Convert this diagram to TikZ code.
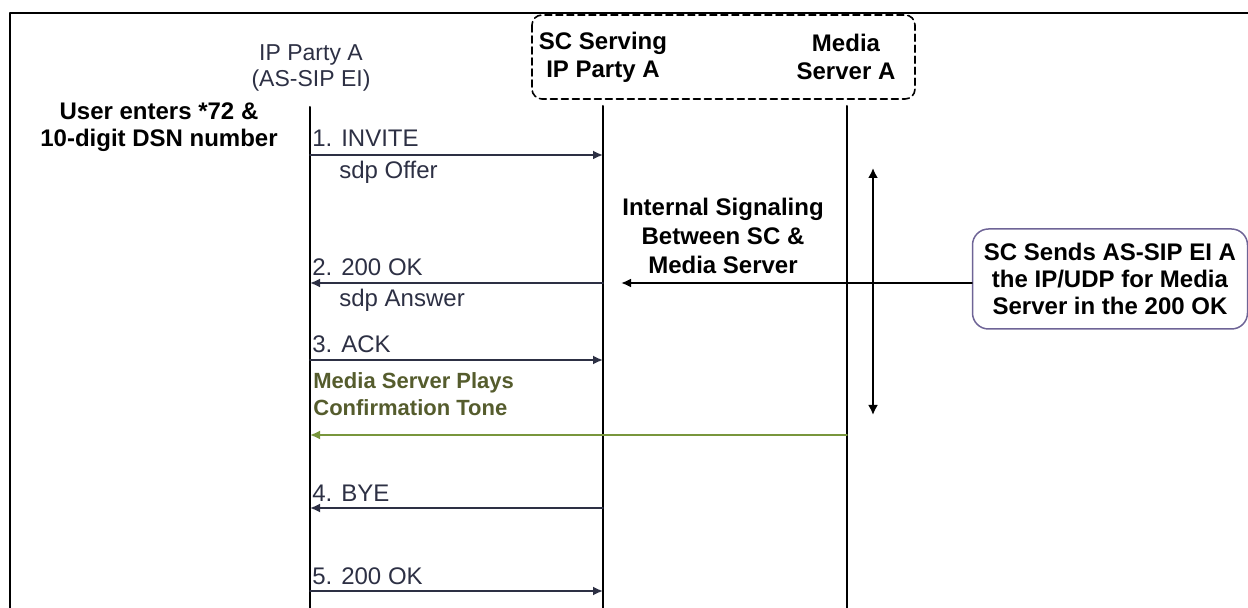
\documentclass[tikz,border=0pt]{standalone}
\usepackage{fontspec}
\setmainfont{Liberation Sans}
\usetikzlibrary{arrows.meta}

\definecolor{msgslate}{RGB}{45,48,68}
\definecolor{tonegreen}{RGB}{120,150,60}
\definecolor{tonetext}{RGB}{85,92,45}
\definecolor{noteedge}{RGB}{110,100,150}

\begin{document}
\begin{tikzpicture}[x=0.5pt,y=-0.5pt,line cap=round,line join=round,
    every node/.style={font=\fontsize{12}{14}\selectfont,inner sep=0pt},
    life/.style={line width=1pt},
    msg/.style={msgslate,line width=0.9pt,-{Latex[length=5pt,width=4.5pt]}},
    lbl/.style={anchor=west,text=msgslate,text height=8.6pt,text depth=0pt},
    bold/.style={font=\fontsize{12}{13.7}\selectfont\bfseries,align=center}]
    \useasboundingbox (0,0) rectangle (1248,608);

    % Marco exterior
    \draw[line width=1pt] (10,620) -- (10,13) -- (1260,13);

    % Cabeceras
    \node[align=center,text=msgslate,font=\fontsize{11.5}{13}\selectfont]
        (hA) at (311,68) {IP Party A\\(AS-SIP EI)};
    \node[bold,font=\fontsize{12}{14}\selectfont\bfseries] (hSC) at (603,57) {SC Serving\\IP Party A};
    \node[bold,font=\fontsize{12}{14}\selectfont\bfseries] (hMS) at (846,57) {Media\\Server A};
    \draw[line width=0.8pt,dash pattern=on 3.5pt off 2pt,rounded corners=5pt]
        (532,15) rectangle (915,99);

    % Lineas de vida
    \coordinate (A) at (310,107);
    \coordinate (SC) at (603,106);
    \coordinate (MS) at (847,106);
    \coordinate (bot) at (0,612);
    \draw[life] (A) -- (A |- bot);
    \draw[life] (SC) -- (SC |- bot);
    \draw[life] (MS) -- (MS |- bot);

    \node[bold,font=\fontsize{12}{13.5}\selectfont\bfseries] (user) at (159,127)
        {User enters *72 \&\\10-digit DSN number};

    % Mensajes
    \coordinate (m1) at (0,155);
    \coordinate (m2) at (0,283);
    \coordinate (m3) at (0,360);
    \coordinate (m4) at (0,508);
    \coordinate (m5) at (0,591);
    \coordinate (tone) at (0,435);

    \node[lbl] (l1) at (312,138) {1. INVITE};
    \node[lbl] (l1b) at (339,170) {sdp Offer};
    \draw[msg] (A |- m1) -- (SC |- m1);

    \node[lbl] (l2) at (312,267) {2. 200 OK};
    \node[lbl] (l2b) at (339,298) {sdp Answer};
    \draw[msg] (SC |- m2) -- (A |- m2);

    \node[lbl] (l3) at (312,344) {3. ACK};
    \draw[msg] (A |- m3) -- (SC |- m3);

    \node[lbl,bold,font=\fontsize{11}{13.5}\selectfont\bfseries,align=left,text=tonetext]
        (ltone) at (313,407) {Media Server Plays\\Confirmation Tone};
    \draw[msg,tonegreen] (MS |- tone) -- (A |- tone);

    \node[lbl] (l4) at (312,493) {4. BYE};
    \draw[msg] (SC |- m4) -- (A |- m4);

    \node[lbl] (l5) at (312,576) {5. 200 OK};
    \draw[msg] (A |- m5) -- (SC |- m5);

    % Senalizacion interna
    \node[bold,font=\fontsize{12}{14.5}\selectfont\bfseries] (internal) at (723,236)
        {Internal Signaling\\Between SC \&\\Media Server};
    \coordinate (itop) at (873,168);
    \coordinate (ibot) at (873,415);
    \draw[line width=1pt,{Latex[length=5pt,width=5pt]}-{Latex[length=5pt,width=5pt]}]
        (itop) -- (ibot);

    % Nota
    \node[bold,draw=noteedge,line width=0.75pt,rounded corners=8pt,
        minimum width=137.5pt,minimum height=50pt] (note) at (1110,279)
        {SC Sends AS-SIP EI A\\the IP/UDP for Media\\Server in the 200 OK};
    \coordinate (sig) at (621,283);
    \draw[line width=1pt,-{Latex[length=5pt,width=4.5pt]}] (note.west |- sig) -- (sig);
\end{tikzpicture}
\end{document}
